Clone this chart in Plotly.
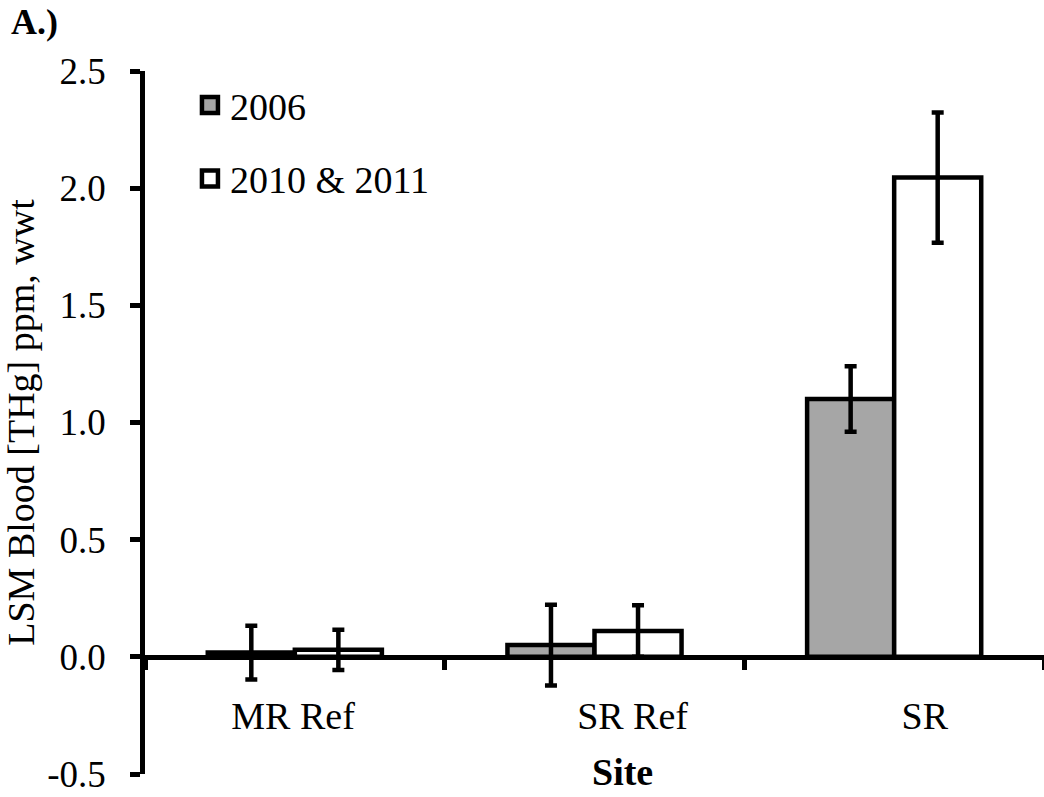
import plotly.graph_objects as go

# Blood total-mercury concentrations by site and sampling period
sites = ["MR Ref", "SR Ref", "SR"]
thg_2006 = [0.018, 0.05, 1.10]
err_2006 = [0.115, 0.172, 0.14]
thg_2010_2011 = [0.03, 0.11, 2.045]
err_2010_2011 = [0.086, 0.11, 0.278]

# category label positions along the site axis (in category units)
label_pos = [-0.006, 1.127, 2.102]

y_ticks = [-0.5, 0.0, 0.5, 1.0, 1.5, 2.0, 2.5]
y_ticktext = ["-0.5", "0.0", "0.5", "1.0", "1.5", "2.0", "2.5"]

FONT = "Liberation Serif, Times New Roman, serif"
GRAY = "#a6a6a6"
LW = 4.5

fig = go.Figure()

series = [
    ("2006", thg_2006, err_2006, GRAY),
    ("2010 & 2011", thg_2010_2011, err_2010_2011, "white"),
]
for name, vals, errs, color in series:
    fig.add_trace(go.Bar(
        x=sites, y=vals, name=name, legendgroup=name, showlegend=False,
        marker=dict(color=color, line=dict(color="black", width=LW)),
        error_y=dict(type="data", array=errs, color="black", thickness=LW, width=6),
    ))
    # square legend key
    fig.add_trace(go.Scatter(
        x=[None], y=[None], mode="markers", name=name, legendgroup=name,
        marker=dict(symbol="square", size=16, color=color,
                    line=dict(color="black", width=4.5)),
    ))

# invisible trace on the label axis so it is drawn
fig.add_trace(go.Scatter(x=label_pos, y=[None] * 3, xaxis="x2",
                         mode="markers", showlegend=False, hoverinfo="skip"))

zero_pos = (0 - y_ticks[0]) / (y_ticks[-1] - y_ticks[0])

fig.update_layout(
    width=1044, height=797,
    margin=dict(l=145, r=0, t=71, b=23),
    plot_bgcolor="white", paper_bgcolor="white",
    font=dict(family=FONT, size=38, color="black"),
    barmode="group", bargap=0.419, bargroupgap=0,
    showlegend=True,
    legend=dict(x=0.05, y=0.996, xanchor="left", yanchor="top",
                bgcolor="rgba(0,0,0,0)", tracegroupgap=21,
                font=dict(family=FONT, size=38)),
    xaxis=dict(
        type="category", anchor="free", position=zero_pos,
        showline=True, linecolor="black", linewidth=LW,
        ticks="outside", tickson="boundaries", ticklen=10, tickwidth=LW,
        tickcolor="black", showticklabels=False, showgrid=False,
        range=[-0.5, 2.5],
    ),
    xaxis2=dict(
        overlaying="x", anchor="free", position=zero_pos, side="bottom",
        range=[-0.5, 2.5], tickvals=label_pos, ticktext=sites,
        ticks="", showline=False, showgrid=False, zeroline=False,
        ticklabelstandoff=33,
        tickfont=dict(family=FONT, size=38),
    ),
    yaxis=dict(
        range=[-0.5, 2.5], tickvals=y_ticks, ticktext=y_ticktext,
        showline=True, linecolor="black", linewidth=LW,
        ticks="outside", ticklen=10, tickwidth=LW, tickcolor="black",
        showgrid=False, zeroline=False, ticklabelstandoff=17,
        tickfont=dict(family=FONT, size=37),
        title=dict(text="LSM Blood [THg] ppm, wwt", standoff=18,
                   font=dict(family=FONT, size=38)),
    ),
    annotations=[
        dict(text="<b>A.)</b>", xref="paper", yref="paper",
             x=-0.151, y=1.101, xanchor="left", yanchor="top",
             showarrow=False, font=dict(family=FONT, size=36)),
        dict(text="<b>Site</b>", xref="paper", yref="paper",
             x=(622 - 145) / 899, y=-0.0299, xanchor="center", yanchor="bottom",
             showarrow=False, font=dict(family=FONT, size=38)),
    ],
)

fig.write_html("out.html")
